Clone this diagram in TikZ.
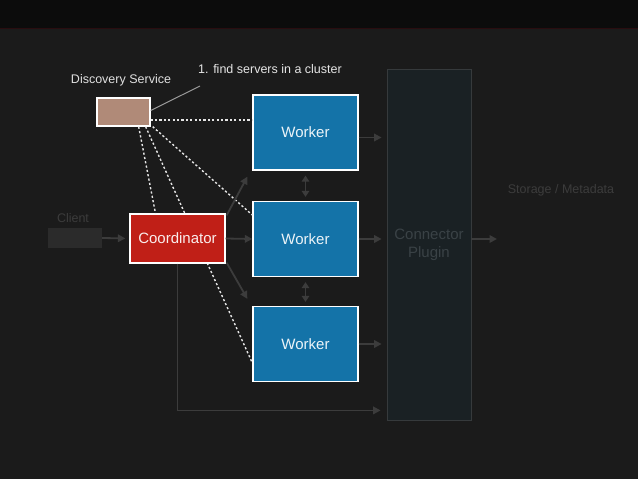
\documentclass[tikz,border=0pt]{standalone}
\usepackage{fontspec}
\setmainfont{Liberation Sans}
\usetikzlibrary{arrows.meta,positioning,calc}

\definecolor{bgdark}{HTML}{1B1B1B}
\definecolor{topbar}{HTML}{0C0C0C}
\definecolor{topline}{HTML}{2A0D10}
\definecolor{discfill}{HTML}{B08A78}
\definecolor{workerfill}{HTML}{1473A8}
\definecolor{coordfill}{HTML}{C01F17}
\definecolor{clientfill}{HTML}{2B2B2B}
\definecolor{pluginfill}{HTML}{1A2124}
\definecolor{pluginline}{HTML}{363A3C}
\definecolor{faintgrey}{HTML}{3C3C3C}
\definecolor{pluginText}{HTML}{3A4246}

\begin{document}
\begin{tikzpicture}[
      x=1pt, y=-1pt,
      box/.style={
        draw=white,
        line width=1.3pt,
        align=center,
        inner sep=0pt,
        font=\fontsize{15}{18}\selectfont
      },
      worker/.style={
        box,
        fill=workerfill,
        text=white!92!workerfill,
        minimum width=105pt,
        minimum height=75pt
      },
      disc/.style={
        box,
        fill=discfill,
        minimum width=53pt,
        minimum height=28pt
      },
      coord/.style={
        box,
        fill=coordfill,
        text=white!92!coordfill,
        minimum width=95pt,
        minimum height=49pt
      },
      client/.style={
        fill=clientfill,
        minimum width=54pt,
        minimum height=20pt,
        inner sep=0pt
      },
      plugin/.style={
        fill=pluginfill,
        draw=pluginline,
        line width=0.8pt,
        align=center,
        text=pluginText,
        minimum width=84pt,
        minimum height=351pt,
        font=\fontsize{15}{18}\selectfont
      },
      note/.style={
        font=\fontsize{12.5}{15}\selectfont,
        inner sep=0pt
      },
      faint/.style={
        -{Triangle[length=7.5pt,width=7.5pt]},
        line width=1.8pt,
        draw=faintgrey
      },
      both/.style={
        {Triangle[length=6pt,width=7.5pt]}-{Triangle[length=6pt,width=7.5pt]},
        line width=1.8pt,
        draw=faintgrey
      },
      dots/.style={
        draw=white!90!black,
        line width=1.4pt,
        dash pattern=on 2.2pt off 2.2pt
      }
    ]
    % background and top bar
    \fill[bgdark] (0,0) rectangle (638,479);
    \useasboundingbox (0,0) rectangle (638,479);
    \fill[topbar] (0,0) rectangle (638,28);
    \fill[topline] (0,28) rectangle (638,29.3);
    
    \node[plugin] (plugin) at (429,244.5) {Connector\\Plugin};
    \node[note, text=faintgrey] (storage) at (561,190) {Storage / Metadata};
    
    \node[disc] (disc) at (123.5,112) {};
    \node[note, text=white!88!black] (discLabel) at (121,80) {Discovery Service};
    \node[note, text=white!90!black] (find) at (270,69) {1. find servers in a cluster};
    \coordinate (findTip) at (200,86);
    
    \node[worker] (w1) at (305.5,132.5) {Worker};
    \node[worker] (w2) at (305.5,239) {Worker};
    \node[worker] (w3) at (305.5,344) {Worker};
    
    % this one passes behind the coordinator
    \draw[dots] ([xshift=-5pt]disc.south east) -- ([yshift=-19pt]w3.west);
    
    \node[coord] (coord) at (177.5,238.5) {Coordinator};
    \node[client] (client) at (75,238) {};
    \node[note, text=faintgrey] (clientLabel) at (73,218) {Client};
    \coordinate (plugOut) at (471,239);
    \coordinate (store) at (497,239);
    
    \draw[white!60!black, line width=1pt] ([yshift=1.5pt]disc.east) -- (findTip);
    
    \draw[dots] ([yshift=-8pt]disc.east) -- ([yshift=12.5pt]w1.west);
    \draw[dots] ([xshift=-12pt]disc.south east) -- ([xshift=-22pt]coord.north);
    \draw[dots] ([xshift=2pt]disc.south east) -- ([yshift=24pt]w2.west);
    
    \draw[faint] ([xshift=1pt,yshift=-2pt]coord.north east) -- ([xshift=-5pt,yshift=-6pt]w1.south west);
    \draw[faint] (coord.east) -- (w2.west);
    \draw[faint] ([xshift=1pt,yshift=1pt]coord.south east) -- ([xshift=-5pt,yshift=7pt]w3.north west);
    \draw[faint, shorten >=4pt] (client.east) -- (coord.west);
    
    \draw[both, shorten <=5pt, shorten >=4pt] (w1.south) -- (w2.north);
    \draw[both, shorten <=5pt, shorten >=4pt] (w2.south) -- (w3.north);
    
    \draw[faint, shorten >=5pt] ([yshift=-5pt]w1.east) -- ([yshift=-5pt]w1.east -| plugin.west);
    \draw[faint, shorten >=5pt] (w2.east) -- (w2.east -| plugin.west);
    \draw[faint, shorten >=5pt] (w3.east) -- (w3.east -| plugin.west);
    \draw[faint] (plugOut) -- (store);
    \draw[faint, shorten >=6pt] (coord.south) |- ([yshift=10pt]plugin.south west);
    \end{tikzpicture}
\end{document}
